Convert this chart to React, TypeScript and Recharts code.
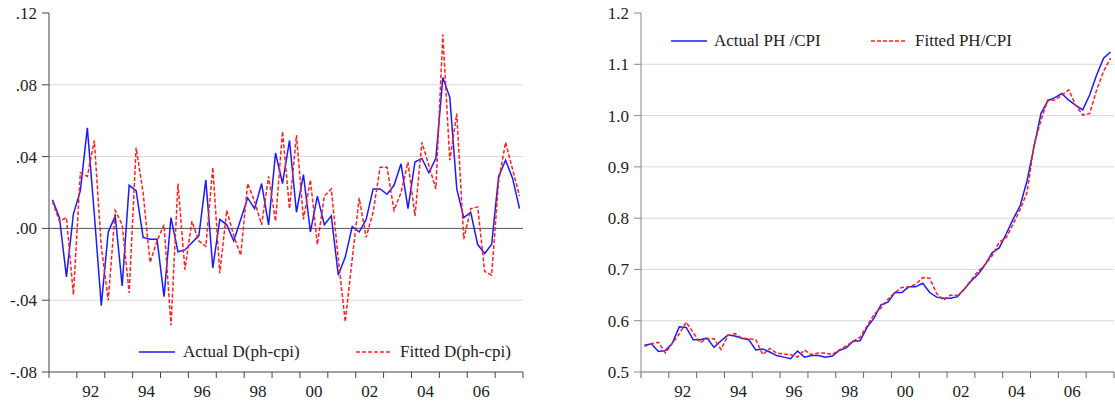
import { LineChart, Line, XAxis, YAxis, ReferenceLine } from 'recharts'

// quarterly sample 1991Q1 - 2007Q4
const startYear = 1991
const endYear = 2008

const actualD = [
  0.016, 0.006, -0.027, 0.008, 0.021, 0.056, 0.008, -0.043, -0.002, 0.007,
  -0.032, 0.024, 0.021, -0.005, -0.006, -0.006, -0.038, 0.006, -0.013, -0.012,
  -0.008, -0.004, 0.027, -0.022, 0.005, 0.002, -0.007, 0.005, 0.017, 0.011,
  0.025, 0.002, 0.042, 0.025, 0.049, 0.009, 0.030, -0.002, 0.018, 0.002,
  0.007, -0.026, -0.016, 0.001, -0.002, 0.005, 0.022, 0.022, 0.019, 0.024,
  0.036, 0.011, 0.037, 0.039, 0.031, 0.039, 0.084, 0.073, 0.022, 0.006,
  0.009, -0.009, -0.014, -0.009, 0.029, 0.038, 0.028, 0.011,
]

const fittedD = [
  0.015, 0.004, 0.006, -0.037, 0.031, 0.029, 0.049, -0.010, -0.040, 0.010,
  0.002, -0.036, 0.045, 0.020, -0.019, -0.007, 0.002, -0.054, 0.025, -0.023,
  0.004, -0.007, -0.010, 0.034, -0.025, 0.010, -0.004, -0.015, 0.025, 0.015,
  0.002, 0.029, 0.004, 0.054, 0.011, 0.052, 0.005, 0.027, -0.009, 0.018,
  0.022, -0.017, -0.052, -0.017, 0.017, -0.005, 0.009, 0.034, 0.034, 0.010,
  0.020, 0.037, 0.007, 0.048, 0.035, 0.022, 0.108, 0.038, 0.064, -0.006,
  0.011, 0.012, -0.024, -0.026, 0.026, 0.048, 0.033, 0.018,
]

const actualPH = [
  0.552, 0.555, 0.540, 0.542, 0.556, 0.588, 0.587, 0.563, 0.563, 0.566,
  0.548, 0.561, 0.572, 0.570, 0.566, 0.563, 0.543, 0.545, 0.539, 0.532,
  0.529, 0.526, 0.541, 0.529, 0.532, 0.532, 0.529, 0.531, 0.542, 0.547,
  0.560, 0.561, 0.587, 0.605, 0.631, 0.636, 0.655, 0.655, 0.666, 0.666,
  0.673, 0.655, 0.646, 0.644, 0.644, 0.647, 0.662, 0.678, 0.691, 0.710,
  0.733, 0.742, 0.769, 0.798, 0.824, 0.873, 0.939, 1.004, 1.029, 1.035,
  1.043, 1.030, 1.020, 1.011, 1.040, 1.079, 1.112, 1.124,
]

const fittedPH = [
  0.550, 0.555, 0.558, 0.537, 0.556, 0.574, 0.597, 0.577, 0.557, 0.565,
  0.565, 0.544, 0.571, 0.575, 0.566, 0.565, 0.563, 0.534, 0.546, 0.537,
  0.535, 0.534, 0.529, 0.543, 0.534, 0.537, 0.537, 0.534, 0.543, 0.551,
  0.560, 0.568, 0.590, 0.612, 0.625, 0.642, 0.655, 0.665, 0.666, 0.671,
  0.684, 0.683, 0.653, 0.640, 0.650, 0.649, 0.662, 0.680, 0.697, 0.710,
  0.727, 0.753, 0.762, 0.788, 0.817, 0.850, 0.942, 0.991, 1.031, 1.030,
  1.040, 1.050, 1.020, 1.001, 1.004, 1.050, 1.086, 1.112,
]

const yearTicks = Array.from({ length: endYear - startYear + 1 }, (_, i) => startYear + i)
const diffTicks = [-0.08, -0.04, 0, 0.04, 0.08, 0.12]
const diffGrid = [-0.04, 0.04, 0.08]
const levelTicks = [0.5, 0.6, 0.7, 0.8, 0.9, 1.0, 1.1, 1.2]
const levelGrid = [0.6, 0.7, 0.8, 0.9, 1.0, 1.1]

// each observation sits in the middle of its quarter
const toRows = (a: number[], b: number[]) =>
  a.map((v, i) => ({ t: startYear + (i + 0.5) / 4, actual: v, fitted: b[i] }))

const diffRows = toRows(actualD, fittedD)
const levelRows = toRows(actualPH, fittedPH)

const FONT = "'Liberation Serif', 'Times New Roman', serif"
const FONT_SIZE = 17
const BLUE = '#1a1aff'
const RED = '#ff1f1f'
const HEIGHT = 403

const fmtDiff = (v: number) => (v < 0 ? '-' : '') + Math.abs(v).toFixed(2).replace(/^0/, '')
const fmtLevel = (v: number) => v.toFixed(1)

// year labels are centred inside the year, between two tick marks
const makeYearTick = (yearPx: number) => (props: any) => {
  const { x, y, payload } = props
  const yr = payload.value as number
  if (yr % 2 !== 0 || yr >= endYear) return <g />
  return (
    <text x={x + yearPx / 2} y={y} dy="0.71em" textAnchor="middle" fill="#222" fontSize={FONT_SIZE} fontFamily={FONT}>
      {String(yr).slice(2)}
    </text>
  )
}

interface LegendItem {
  label: string
  color: string
  dashed?: boolean
  lineX: number
  textX: number
}

function OverlayLegend({ items, y }: { items: LegendItem[]; y: number }) {
  return (
    <>
      {items.map((it) => (
        <div key={it.label}>
          <svg style={{ position: 'absolute', left: it.lineX, top: y - 2 }} width={36} height={4}>
            <line x1={0} y1={2} x2={36} y2={2} stroke={it.color} strokeWidth={1.5} strokeDasharray={it.dashed ? '4 2' : undefined} />
          </svg>
          <div
            style={{
              position: 'absolute',
              left: it.textX,
              top: y - 11,
              fontFamily: FONT,
              fontSize: FONT_SIZE,
              lineHeight: '22px',
              color: '#222',
              whiteSpace: 'nowrap',
            }}
          >
            {it.label}
          </div>
        </div>
      ))}
    </>
  )
}

export default function App() {
  const leftWidth = 525
  const rightLeft = 570
  const rightWidth = 545
  const leftYearPx = (leftWidth - 2 - 49) / (endYear - startYear)
  const rightYearPx = (rightWidth - 1 - 71) / (endYear - startYear)

  return (
    <div style={{ position: 'absolute', left: 0, top: 0, width: 1115, height: HEIGHT, background: '#fff' }}>
      <div style={{ position: 'absolute', left: 0, top: 0 }}>
        <LineChart width={leftWidth} height={HEIGHT} data={diffRows} margin={{ top: 13, right: 2, left: 0, bottom: 0 }}>
          {diffGrid.map((v) => (
            <ReferenceLine key={v} y={v} stroke="#d9d9d9" strokeWidth={1} />
          ))}
          <ReferenceLine y={0} stroke="#555" strokeWidth={1} />
          <XAxis
            dataKey="t"
            type="number"
            domain={[startYear, endYear]}
            ticks={yearTicks}
            interval={0}
            height={31}
            tickSize={6}
            tickMargin={7}
            stroke="#444"
            tick={makeYearTick(leftYearPx)}
          />
          <YAxis
            domain={[-0.08, 0.12]}
            ticks={diffTicks}
            interval={0}
            width={49}
            tickSize={7}
            tickMargin={5}
            stroke="#444"
            tickFormatter={fmtDiff}
            tick={{ fill: '#222', fontSize: FONT_SIZE, fontFamily: FONT }}
          />
          <Line type="linear" dataKey="actual" stroke={BLUE} strokeWidth={1.5} dot={false} activeDot={false} isAnimationActive={false} />
          <Line type="linear" dataKey="fitted" stroke={RED} strokeWidth={1.5} strokeDasharray="4 2" dot={false} activeDot={false} isAnimationActive={false} />
        </LineChart>
      </div>
      <OverlayLegend
        y={352}
        items={[
          { label: 'Actual D(ph-cpi)', color: BLUE, lineX: 139, textX: 183 },
          { label: 'Fitted D(ph-cpi)', color: RED, dashed: true, lineX: 356, textX: 400 },
        ]}
      />

      <div style={{ position: 'absolute', left: rightLeft, top: 0 }}>
        <LineChart width={rightWidth} height={HEIGHT} data={levelRows} margin={{ top: 13, right: 1, left: 0, bottom: 0 }}>
          {levelGrid.map((v) => (
            <ReferenceLine key={v} y={v} stroke="#d9d9d9" strokeWidth={1} />
          ))}
          <XAxis
            dataKey="t"
            type="number"
            domain={[startYear, endYear]}
            ticks={yearTicks}
            interval={0}
            height={31}
            tickSize={6}
            tickMargin={7}
            stroke="#666"
            tick={makeYearTick(rightYearPx)}
          />
          <YAxis
            domain={[0.5, 1.2]}
            ticks={levelTicks}
            interval={0}
            width={71}
            tickSize={7}
            tickMargin={5}
            stroke="#888"
            tickFormatter={fmtLevel}
            tick={{ fill: '#222', fontSize: FONT_SIZE, fontFamily: FONT }}
          />
          <Line type="linear" dataKey="actual" stroke={BLUE} strokeWidth={1.5} dot={false} activeDot={false} isAnimationActive={false} />
          <Line type="linear" dataKey="fitted" stroke={RED} strokeWidth={1.5} strokeDasharray="4 2" dot={false} activeDot={false} isAnimationActive={false} />
        </LineChart>
      </div>
      <OverlayLegend
        y={41}
        items={[
          { label: 'Actual PH /CPI', color: BLUE, lineX: 671, textX: 714 },
          { label: 'Fitted PH/CPI', color: RED, dashed: true, lineX: 871, textX: 915 },
        ]}
      />
    </div>
  )
}
